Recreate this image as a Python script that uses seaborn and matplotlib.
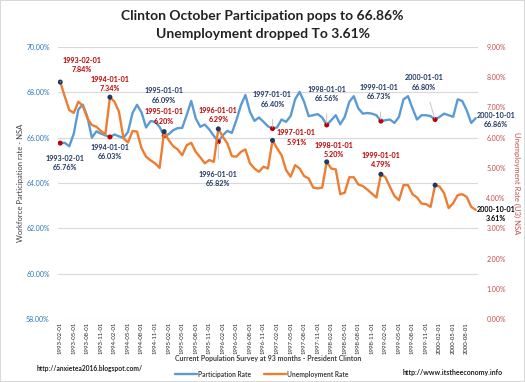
import pandas as pd
import matplotlib
matplotlib.use("Agg")
import matplotlib.pyplot as plt
import matplotlib.ticker as mtick
from matplotlib.lines import Line2D
import seaborn as sns

# monthly series, 1993-02 .. 2000-10 (93 months)
participation = [
    65.76, 65.77, 65.62, 66.18, 67.24, 67.46, 66.92, 66.00, 66.28, 66.18, 66.10,
    66.03, 66.14, 66.06, 65.99, 66.25, 67.09, 67.45, 67.11, 66.45, 66.73, 66.70, 66.47,
    66.09, 66.15, 66.33, 66.42, 66.43, 67.00, 67.62, 66.85, 66.48, 66.58, 66.36, 66.08,
    65.82, 66.11, 66.30, 66.21, 66.77, 67.43, 67.88, 67.14, 66.74, 66.89, 66.70, 66.50,
    66.40, 66.45, 66.80, 66.70, 66.95, 67.69, 68.02, 67.58, 66.95, 66.99, 67.04, 66.89,
    66.56, 66.77, 66.99, 66.59, 66.92, 67.58, 67.83, 67.29, 67.06, 67.09, 67.06, 66.99,
    66.73, 66.77, 66.80, 66.65, 66.92, 67.69, 67.83, 67.29, 66.80, 66.99, 66.99, 66.95,
    66.80, 66.92, 67.06, 66.99, 66.92, 67.69, 67.62, 67.21, 66.65, 66.86,
]
unemployment = [
    7.84, 7.36, 6.91, 6.82, 7.19, 7.05, 6.64, 6.42, 6.36, 6.22, 6.12,
    7.34, 7.19, 6.86, 5.98, 5.84, 6.22, 6.20, 5.65, 5.37, 5.25, 5.15, 5.00,
    6.20, 5.92, 5.72, 5.61, 5.42, 5.75, 5.83, 5.53, 5.35, 5.15, 5.26, 5.20,
    6.29, 6.03, 5.81, 5.39, 5.37, 5.53, 5.61, 5.15, 4.98, 4.87, 5.04, 4.98,
    5.91, 5.65, 5.42, 4.93, 4.71, 5.09, 4.98, 4.73, 4.65, 4.35, 4.32, 4.35,
    5.20, 4.98, 4.95, 4.13, 4.18, 4.69, 4.69, 4.45, 4.40, 4.28, 4.15, 4.02,
    4.79, 4.69, 4.37, 4.07, 3.93, 4.43, 4.43, 4.13, 4.02, 3.82, 3.80, 3.71,
    4.43, 4.38, 4.16, 3.67, 3.83, 4.10, 4.13, 4.04, 3.71, 3.61,
]
months = pd.date_range("1993-02-01", periods=len(participation), freq="MS").strftime("%Y-%m-%d").tolist()
january_idx = [0, 11, 23, 35, 47, 59, 71, 83]

df = pd.DataFrame({"idx": range(len(months)), "month": months,
                   "Participation Rate": participation, "Unemployment Rate": unemployment})

BLUE = "#5B9BD5"
ORANGE = "#ED7D31"
NAVY = "#1F3864"
RED = "#C00000"

sns.set_style("white")
plt.rcParams["font.family"] = ["Lato", "DejaVu Sans"]

fig = plt.figure(figsize=(5.25, 3.82), dpi=100, edgecolor="#d9d9d9", linewidth=1.2)
ax = fig.add_axes([58 / 525, 1 - 319 / 382, 420 / 525, 272 / 382])
ax2 = ax.twinx()

sns.lineplot(data=df, x="idx", y="Participation Rate", ax=ax, color=BLUE, lw=1.7)
sns.lineplot(data=df, x="idx", y="Unemployment Rate", ax=ax2, color=ORANGE, lw=1.7)

# highlighted points
sel = df.iloc[january_idx]
sns.scatterplot(x=sel["idx"], y=sel["Participation Rate"], ax=ax, color=RED, s=13, zorder=5, edgecolor="none")
sns.scatterplot(x=sel["idx"], y=sel["Unemployment Rate"], ax=ax2, color=NAVY, s=13, zorder=5, edgecolor="none")

ax.set_xlim(-0.5, len(months) - 0.5)
ax.set_ylim(58, 70)
ax2.set_ylim(0, 9)
ax.set_yticks(range(58, 71, 2))
ax2.set_yticks(range(0, 10))
ax.yaxis.set_major_formatter(mtick.FuncFormatter(lambda v, p: f"{v:.2f}%"))
ax2.yaxis.set_major_formatter(mtick.FuncFormatter(lambda v, p: f"{v:.2f}%"))
ax.tick_params(axis="y", colors="#2E75B6", labelsize=5, length=0, pad=6)
ax2.tick_params(axis="y", colors="#C0504D", labelsize=5, length=0, pad=6)
ax.set_xticks(range(0, len(months), 3))
ax.set_xticklabels(months[::3], rotation=90, fontsize=4.3)
ax.tick_params(axis="x", length=0, pad=2)
ax.yaxis.grid(True, color="#d9d9d9", lw=0.8)
ax.set_axisbelow(True)
for a in (ax, ax2):
    for s in a.spines.values():
        s.set_visible(False)
    a.set_xlabel("")
ax.set_ylabel("Workforce Participation rate - NSA", fontsize=5.5, color="#404040")
ax2.set_ylabel("Unemployment Rate (U3) NSA", fontsize=5.5, color="#C0504D", rotation=270, va="center")
ax.yaxis.set_label_coords((24 - 58) / 420, 0.5)
ax2.yaxis.set_label_coords((517 - 58) / 420, 0.5)

# point labels: (axis, series, index, dx px, dy px, colour, leader)
labels = [
    (ax2, unemployment, 0, 22, 17, RED, True),
    (ax, participation, 0, 5, -20, NAVY, False),
    (ax2, unemployment, 11, 0, 13, RED, False),
    (ax, participation, 11, 0, -15, NAVY, False),
    (ax, participation, 23, 0, 40, NAVY, False),
    (ax2, unemployment, 23, 0, 15, RED, False),
    (ax2, unemployment, 35, 0, 14, RED, False),
    (ax, participation, 35, 0, -37, NAVY, True),
    (ax, participation, 47, 0, 29, NAVY, True),
    (ax2, unemployment, 47, 24, 3, RED, False),
    (ax, participation, 59, 0, 31, NAVY, True),
    (ax2, unemployment, 59, 7, 12, RED, False),
    (ax, participation, 71, -2, 29, NAVY, True),
    (ax2, unemployment, 71, 0, 14, RED, False),
    (ax, participation, 83, -11, 37, NAVY, True),
    (ax, participation, 92, 20, -2, NAVY, False),
    (ax2, unemployment, 92, 20, -4, "black", False),
]
for a, series, i, dx, dy, col, leader in labels:
    arrow = dict(arrowstyle="-", color="#bfbfbf", lw=0.6, shrinkA=6, shrinkB=1) if leader else None
    a.annotate(f"{months[i]}\n{series[i]:.2f}%", xy=(i, series[i]), xytext=(dx, dy),
               textcoords="offset pixels", ha="center", va="center", fontsize=5.2,
               fontweight="bold", color=col, linespacing=1.4, arrowprops=arrow, zorder=6)

fig.text(0.5, 1 - 16 / 382, "Clinton October Participation pops to 66.86%",
         ha="center", va="center", fontsize=10, fontweight="bold", color="#222222")
fig.text(0.5, 1 - 34 / 382, "Unemployment dropped To 3.61%",
         ha="center", va="center", fontsize=10, fontweight="bold", color="#222222")
fig.text(268 / 525, 1 - 359 / 382, "Current Population Survey at 93 months - President Clinton",
         ha="center", va="center", fontsize=5.0, fontweight="bold", color="#404040")
fig.text(37 / 525, 1 - 368 / 382, "http://anxietea2016.blogspot.com/",
         ha="left", va="center", fontsize=4.8, fontweight="bold", color="#222222")
fig.text(503 / 525, 1 - 373 / 382, "http://www.itstheeconomy.info",
         ha="right", va="center", fontsize=5.0, fontweight="bold", color="#222222")

handles = [Line2D([0], [0], color=BLUE, lw=1.7), Line2D([0], [0], color=ORANGE, lw=1.7)]
leg = fig.legend(handles, ["Participation Rate", "Unemployment Rate"], loc="center",
                 bbox_to_anchor=(262 / 525, 1 - 374 / 382), ncol=2, frameon=False,
                 prop={"size": 4.8, "weight": "bold"}, handlelength=3.2, columnspacing=2.0,
                 handletextpad=0.2)
for t in leg.get_texts():
    t.set_color("#404040")

fig.savefig("out.png", dpi=100)
